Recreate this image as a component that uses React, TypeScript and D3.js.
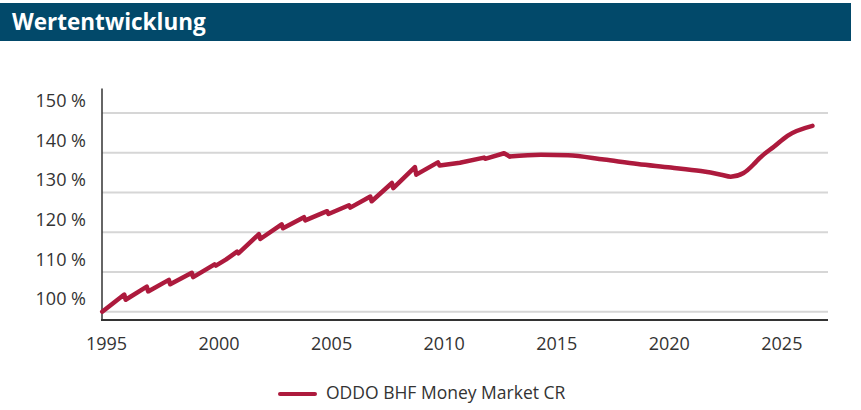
import React from "react";
import * as d3 from "d3";

const W = 861;
const H = 410;

const years: number[] = [
  1994.81, 1995.79, 1995.85, 1996.79, 1996.85, 1997.77, 1997.83, 1998.79, 1998.85,
  1999.8, 1999.86, 2000.3, 2000.8, 2000.86, 2001.77, 2001.83, 2002.78, 2002.84,
  2003.77, 2003.83, 2004.8, 2004.86, 2005.77, 2005.83, 2006.72, 2006.78,
  2007.68, 2007.74, 2008.7, 2008.76, 2009.72, 2009.8, 2010.7, 2011.77, 2011.82,
  2012.66, 2012.9, 2014.3, 2015.5, 2017.1, 2018.6, 2020.07, 2021.4, 2022.3,
  2022.73, 2023.3, 2023.8, 2024.0, 2024.66, 2025.25, 2026.36,
];
const values: number[] = [
  100.0, 104.3, 103.0, 106.3, 105.1, 108.0, 106.9, 109.8, 108.7,
  111.9, 111.6, 113.1, 115.1, 114.7, 119.5, 118.3, 122.0, 121.0,
  123.8, 123.0, 125.3, 124.6, 126.8, 126.2, 129.0, 127.8,
  132.4, 131.1, 136.4, 134.5, 137.6, 136.8, 137.5, 138.8, 138.5,
  139.9, 139.1, 139.5, 139.4, 138.3, 137.2, 136.3, 135.4, 134.5,
  134.0, 134.9, 137.4, 138.6, 141.6, 144.3, 146.8,
];
// from this year on the curve is smooth (no annual drops)
const smoothFrom = 2012.9;

const yTicks: number[] = [100, 110, 120, 130, 140, 150];
const xTicks: number[] = [1995, 2000, 2005, 2010, 2015, 2020, 2025];

const title = "Wertentwicklung";
const seriesName = "ODDO BHF Money Market CR";

const FONT = "'Open Sans', 'Noto Sans', sans-serif";
const RED = "#AD1A3D";

export default function App() {
  const x = d3.scaleLinear().domain([1994.8, 2027.05]).range([102, 828]);
  const y = d3.scaleLinear().domain([97.9, 156.2]).range([320, 88.5]);

  const pts: [number, number][] = years.map((yr, i) => [yr, values[i]]);
  const early = pts.filter((d) => d[0] <= smoothFrom);
  const late = pts.filter((d) => d[0] >= smoothFrom);
  const lineLin = d3
    .line<[number, number]>()
    .x((d) => x(d[0]))
    .y((d) => y(d[1]))
    .curve(d3.curveLinear);
  const lineSmooth = d3
    .line<[number, number]>()
    .x((d) => x(d[0]))
    .y((d) => y(d[1]))
    .curve(d3.curveMonotoneX);

  return (
    <svg
      width={W}
      height={H}
      style={{ position: "absolute", left: 0, top: 0, background: "#fff" }}
      fontFamily={FONT}
    >
      <rect x={0} y={3} width={851} height={38} fill="#02496A" />
      <text x={12} y={30} fill="#fff" fontSize={22.5} fontWeight={700}>
        {title}
      </text>

      {yTicks.map((t) => (
        <g key={t}>
          <line x1={102} x2={828} y1={y(t)} y2={y(t)} stroke="#d6d6d6" strokeWidth={2} />
          <text
            x={86}
            y={y(t) - 11}
            textAnchor="end"
            dominantBaseline="middle"
            fontSize={18}
            fill="#333"
          >
            {`${t} %`}
          </text>
        </g>
      ))}

      <line x1={102} x2={102} y1={88.5} y2={321} stroke="#333" strokeWidth={1.5} />
      <line x1={101} x2={828} y1={320} y2={320} stroke="#333" strokeWidth={2} />

      {xTicks.map((t) => (
        <text
          key={t}
          x={x(t)}
          y={345.5}
          textAnchor="middle"
          dominantBaseline="middle"
          fontSize={18}
          fill="#333"
        >
          {t}
        </text>
      ))}

      <path
        d={lineLin(early) || ""}
        fill="none"
        stroke={RED}
        strokeWidth={4.5}
        strokeLinejoin="round"
        strokeLinecap="round"
      />
      <path
        d={lineSmooth(late) || ""}
        fill="none"
        stroke={RED}
        strokeWidth={4.5}
        strokeLinejoin="round"
        strokeLinecap="round"
      />

      <line x1={280} x2={315} y1={394} y2={394} stroke={RED} strokeWidth={4} strokeLinecap="round" />
      <text x={326} y={394} dominantBaseline="middle" fontSize={17.5} fill="#333">
        {seriesName}
      </text>
    </svg>
  );
}
